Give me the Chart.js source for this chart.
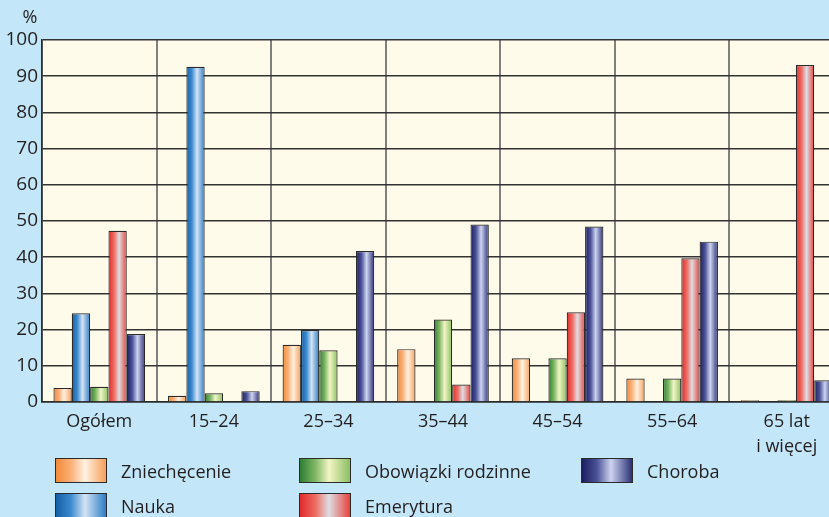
<!DOCTYPE html>
<html>
<head>
<meta charset="utf-8">
<script src="https://cdn.jsdelivr.net/npm/chart.js@4.4.1/dist/chart.umd.min.js"></script>
<style>
  html, body { margin: 0; padding: 0; }
  body { width: 829px; height: 517px; overflow: hidden; background: #c3e6f8; position: relative;
         font-family: "Open Sans", sans-serif; color: #231f20; }
  #wrap { position: absolute; left: 0; top: 0; width: 850px; height: 517px; }
  #legend { position: absolute; left: 0; top: 0; width: 829px; height: 517px; pointer-events: none; }
  .item { position: absolute; display: flex; align-items: center; font-size: 18px; }
  .sw { width: 52px; height: 25px; border: 1px solid #2b2b2b; box-sizing: border-box; margin-right: 14px; }
</style>
</head>
<body>
<div id="wrap"><canvas id="chart" width="850" height="517"></canvas></div>
<div id="legend"></div>
<script>
// categories and series (values in %)
var categories = ['Ogółem', '15–24', '25–34', '35–44', '45–54', '55–64', ['65 lat', 'i więcej']];
var yTicks = [0, 10, 20, 30, 40, 50, 60, 70, 80, 90, 100];

var zniechecenie = [3.9, 1.7, 15.8, 14.6, 12.1, 6.5, 0.5];
var nauka = [24.5, 92.6, 19.9, null, null, null, null];
var obowiazki = [4.2, 2.4, 14.3, 22.8, 12.1, 6.5, 0.5];
var emerytura = [47.3, null, null, 4.8, 24.8, 39.7, 93.1];
var choroba = [18.8, 3.0, 41.7, 49.0, 48.5, 44.3, 6.0];

var seriesNames = ['Zniechęcenie', 'Nauka', 'Obowiązki rodzinne', 'Emerytura', 'Choroba'];
var legendOrder = [0, 2, 4, 1, 3];

// left edge, mid, highlight, right edge of each bar's shading
var shades = [
  ['#f28a3a', '#f9b077', '#fff1e2', '#f7a05a'],
  ['#145fa6', '#3d8ad0', '#d3e4f5', '#2d7cc2'],
  ['#2f7d34', '#7cb662', '#f1f5c4', '#8cbf62'],
  ['#e02a2a', '#ee6a62', '#dedde2', '#e8433f'],
  ['#1c1e5e', '#4b5298', '#cdd4f0', '#2b3076']
];
var stops = [0, 0.3, 0.58, 1];

var textColor = '#231f20';

var datasets = [zniechecenie, nauka, obowiazki, emerytura, choroba].map(function(values, i) {
  return {
    label: seriesNames[i],
    data: values,
    backgroundColor: shades[i][1],
    borderColor: '#2b2b2b',
    borderWidth: 1.2,
    barPercentage: 1.0,
    categoryPercentage: 0.8
  };
});

var plotBackground = {
  id: 'plotBackground',
  beforeDraw: function(chart) {
    var a = chart.chartArea, c = chart.ctx;
    c.save();
    c.fillStyle = '#fffbea';
    c.fillRect(a.left, a.top, a.right - a.left, a.bottom - a.top);
    c.restore();
  }
};

var barShading = {
  id: 'barShading',
  beforeDatasetsDraw: function(chart) {
    var c = chart.ctx;
    chart.data.datasets.forEach(function(ds, i) {
      var meta = chart.getDatasetMeta(i);
      meta.data.forEach(function(bar) {
        if (!bar || !isFinite(bar.x)) return;
        var g = c.createLinearGradient(bar.x - bar.width / 2, 0, bar.x + bar.width / 2, 0);
        stops.forEach(function(s, k) { g.addColorStop(s, shades[i][k]); });
        bar.options = Object.assign({}, bar.options, { backgroundColor: g });
      });
    });
  }
};

var percentSign = {
  id: 'percentSign',
  afterDraw: function(chart) {
    var c = chart.ctx;
    c.save();
    c.font = '18px "Open Sans"';
    c.fillStyle = textColor;
    c.textAlign = 'center';
    c.textBaseline = 'middle';
    c.fillText('%', 30, 18);
    c.restore();
  }
};

var ctx = document.getElementById('chart').getContext('2d');
var myChart = new Chart(ctx, {
  type: 'bar',
  data: { labels: categories, datasets: datasets },
  options: {
    responsive: false,
    animation: false,
    layout: { padding: { left: 0, right: 6, top: 40, bottom: 55 } },
    plugins: { legend: { display: false }, tooltip: { enabled: false } },
    scales: {
      x: {
        grid: { color: '#808080', lineWidth: 2, drawTicks: false, offset: true },
        border: { color: '#2b2b2b', width: 1.5 },
        ticks: { color: textColor, font: { family: 'Open Sans', size: 18, lineHeight: 1.4 }, padding: 7, maxRotation: 0, autoSkip: false },
        afterFit: function(scale) { scale.height = 60; }
      },
      y: {
        min: 0,
        max: 100,
        afterBuildTicks: function(scale) { scale.ticks = yTicks.map(function(v) { return { value: v }; }); },
        grid: { color: '#333333', lineWidth: 1.6, drawTicks: false },
        border: { color: '#2b2b2b', width: 1.5 },
        ticks: { color: textColor, font: { family: 'Open Sans', size: 19 }, padding: 4 },
        afterFit: function(scale) { scale.width = 42; }
      }
    }
  },
  plugins: [plotBackground, barShading, percentSign]
});

// legend laid out in three columns, as in the original figure
var colX = [55, 299, 581];
var rowY = [458, 493];
var legendBox = document.getElementById('legend');
legendOrder.forEach(function(dsIndex, k) {
  var item = document.createElement('div');
  item.className = 'item';
  item.style.left = colX[k % 3] + 'px';
  item.style.top = rowY[Math.floor(k / 3)] + 'px';
  var sw = document.createElement('div');
  sw.className = 'sw';
  var s = shades[dsIndex];
  sw.style.background = 'linear-gradient(to right, ' + s[0] + ', ' + s[1] + ' 30%, ' + s[2] + ' 58%, ' + s[3] + ')';
  var label = document.createElement('span');
  label.textContent = myChart.data.datasets[dsIndex].label;
  item.appendChild(sw);
  item.appendChild(label);
  legendBox.appendChild(item);
});
</script>
</body>
</html>
